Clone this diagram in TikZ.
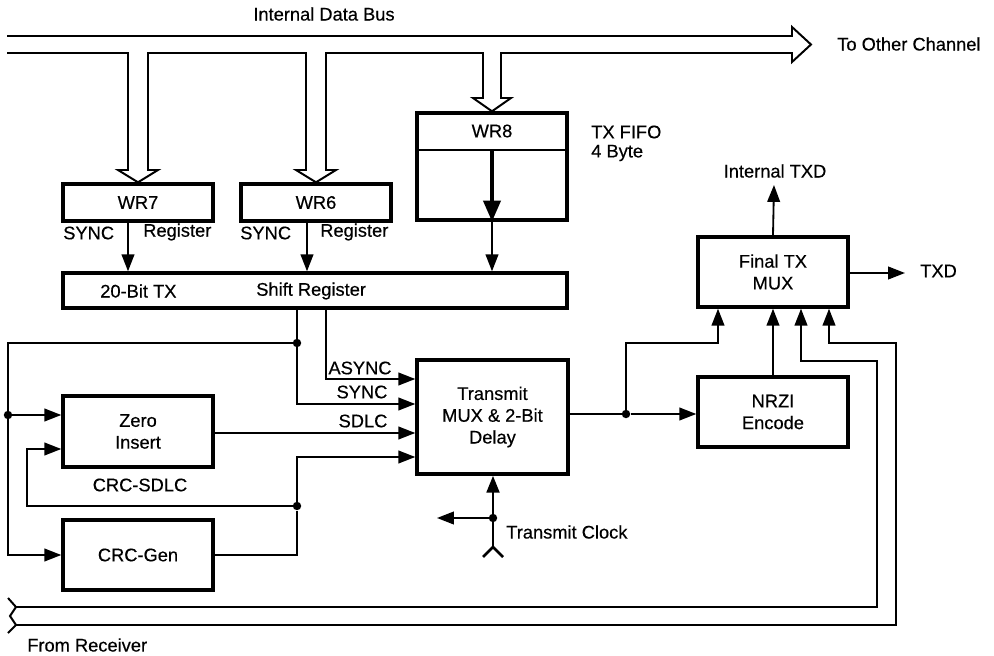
\documentclass[tikz,border=0pt]{standalone}
\usepackage{fontspec}
\setmainfont{Liberation Sans}[FakeBold=0.4]
\usetikzlibrary{arrows.meta}
\begin{document}
\begin{tikzpicture}[x=0.025cm,y=-0.025cm,
    font=\fontsize{13}{15.5}\selectfont,
    blk/.style={draw,line width=2.4pt,inner sep=0pt,align=center},
    wire/.style={line width=1.3pt},
    arr/.style={wire,-{Triangle[length=12pt,width=9pt]}},
    dot/.style={circle,fill,inner sep=0pt,minimum size=6pt},
    lbl/.style={anchor=west,inner sep=0pt}]
  \useasboundingbox (0,0) rectangle (994,656);

  % blocks
  \node[blk,minimum width=3.75cm,minimum height=0.925cm] (wr7) at (138,202.5) {WR7};
  \node[blk,minimum width=3.75cm,minimum height=0.925cm] (wr6) at (316,202.5) {WR6};
  \node[blk,minimum width=3.75cm,minimum height=2.675cm] (wr8) at (492,166.5) {};
  \node (wr8t) at (492,131) {WR8};
  \node[blk,minimum width=12.6cm,minimum height=0.875cm] (shift) at (315,290.5) {};
  \node[blk,minimum width=3.75cm,minimum height=1.775cm] (zero) at (138,431.5) {Zero\\Insert};
  \node[blk,minimum width=3.75cm,minimum height=1.75cm] (crc) at (138,555) {CRC-Gen};
  \node[blk,minimum width=3.775cm,minimum height=2.85cm] (mux) at (492.5,417) {Transmit\\MUX \& 2-Bit\\Delay};
  \node[blk,minimum width=3.75cm,minimum height=1.75cm] (final) at (773,272) {Final TX\\MUX};
  \node[blk,minimum width=3.75cm,minimum height=1.75cm] (nrzi) at (773,412) {NRZI\\Encode};

  % labels
  \node (bus) at (324,14) {Internal Data Bus};
  \node[lbl] (other) at (837,44) {To Other Channel};
  \node[lbl] (fifo) at (591,132) {TX FIFO};
  \node[lbl] (fifob) at (591,153) {4 Byte};
  \node[lbl] (s7) at (63,233) {SYNC}; \node[lbl] (r7) at (143,232) {Register};
  \node[lbl] (s6) at (240,233) {SYNC}; \node[lbl] (r6) at (320,232) {Register};
  \node[lbl] (tx20) at (100,291) {20-Bit TX}; \node[lbl] (shr) at (256,291) {Shift Register};
  \node (async) at (360,368) {ASYNC};
  \node (sync) at (362,392) {SYNC};
  \node (sdlc) at (363,421) {SDLC};
  \node (crcsdlc) at (140,485) {CRC-SDLC};
  \node (itxd) at (775,171) {Internal TXD};
  \node[lbl] (txd) at (920,271) {TXD};
  \node[lbl] (tclk) at (506,532) {Transmit Clock};
  \node[lbl] (recv) at (27,645) {From Receiver};

  % junctions and free ends
  \node[dot] (j1) at (297,343) {};
  \node[dot] (j2) at (8,415) {};
  \node[dot] (j3) at (297,506) {};
  \node[dot] (j4) at (626,414) {};
  \node[dot] (j5) at (493,518) {};
  \coordinate (itxdp) at (774,185);
  \coordinate (txdp) at (905,273);
  \coordinate (clk) at (493,547);
  \coordinate (clkout) at (437,518);

  % internal data bus
  \draw[line width=1.4pt] (7,36) -- (792,36) -- (792,27) -- (811,44.5) -- (792,62) -- (792,53)
    -- (501,53) -- (501,98) -- (511,98) -- (wr8.north) -- (473,98) -- (483,98) -- (483,53)
    -- (326,53) -- (326,170) -- (336,170) -- (wr6.north) -- (296,170) -- (306,170) -- (306,53)
    -- (148,53) -- (148,170) -- (158,170) -- (wr7.north) -- (118,170) -- (128,170) -- (128,53) -- (7,53);
  \draw[line width=1pt] (wr8.west |- 0,150) -- (wr8.east |- 0,150);
  \draw[line width=3pt,-{Triangle[length=15pt,width=12pt]}] (wr8.center |- 0,150) -- (wr8.south);

  % into shift register
  \draw[arr] (128,0 |- wr7.south) -- (128,0 |- shift.north); \draw[arr] (307,0 |- wr6.south) -- (307,0 |- shift.north);
  \draw[arr] (wr8.south) -- (wr8.south |- shift.north);

  % shift register outputs
  \draw[arr] (326,0 |- shift.south) |- (mux.west |- 0,379);
  \draw[arr] (j1 |- shift.south) |- (mux.west |- 0,404);
  \draw[arr] (j1) -| (j2 |- crc.west) -- (crc.west);
  \draw[arr] (j2) -- (j2 -| zero.west);
  \draw[arr] (zero.east |- 0,433) -- (mux.west |- 0,433);
  \draw[arr] (crc.east) -| (j3) |- (mux.west |- 0,457);
  \draw[arr] (j3) -| (27,449) -- (zero.west |- 0,449);

  % output side
  \draw[arr] (mux.east |- j4) -- (j4) -- (j4 -| nrzi.west);
  \draw[arr] (j4) |- (718,343) -- (718,0 |- final.south);
  \draw[arr] (nrzi.north) -- (final.south);
  \draw[arr] (final.north) -- (itxdp); \draw[arr] (final.east |- txdp) -- (txdp);

  % transmit clock
  \draw[line width=2pt,-{Triangle[length=12pt,width=9pt]}] (clk) -- (j5 |- mux.south);
  \draw[line width=2pt] (483,557) -- (clk) -- (503,557);
  \draw[arr] (j5) -- (clkout);

  % from receiver
  \draw[line width=1.4pt] (8,598) -- (16,607) -- (10,616) -- (16,625) -- (8,633);
  \draw[arr,line width=1.4pt] (16,607) -| (877,361) -| (801,0 |- final.south);
  \draw[arr,line width=1.4pt] (16,625) -| (896,343) -| (829,0 |- final.south);
\end{tikzpicture}
\end{document}
